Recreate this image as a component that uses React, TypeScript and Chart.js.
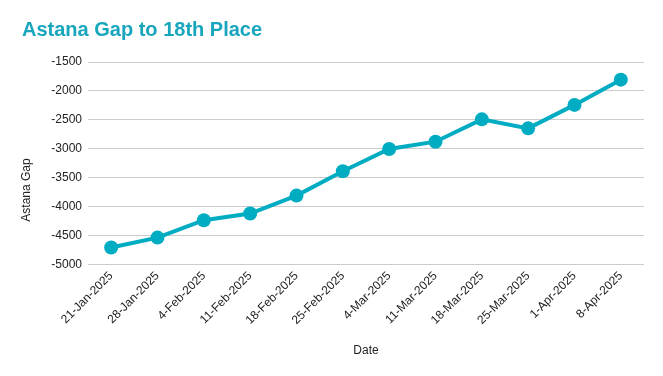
import React, { useEffect, useRef } from "react";
import { Chart, registerables } from "chart.js";

Chart.register(...registerables);

const dates = [
  "21-Jan-2025", "28-Jan-2025", "4-Feb-2025", "11-Feb-2025", "18-Feb-2025", "25-Feb-2025",
  "4-Mar-2025", "11-Mar-2025", "18-Mar-2025", "25-Mar-2025", "1-Apr-2025", "8-Apr-2025",
];
const astanaGap = [-4700, -4530, -4230, -4115, -3805, -3385, -3000, -2875, -2490, -2645, -2240, -1805];
const yMin = -5000;
const yMax = -1500;
const yStep = 500;
const yTitle = "Astana Gap";

const TEAL = "#00acc1";
const FONT = "Arial, 'Liberation Sans', sans-serif";

const yTitlePlugin = {
  id: "yTitlePlugin",
  afterDraw(chart: any) {
    const ctx = chart.ctx;
    ctx.save();
    ctx.translate(27, 190);
    ctx.rotate(-Math.PI / 2);
    ctx.font = `12px ${FONT}`;
    ctx.fillStyle = "#222";
    ctx.textAlign = "center";
    ctx.textBaseline = "middle";
    ctx.fillText(yTitle, 0, 0);
    ctx.restore();
  },
};

export default function App() {
  const ref = useRef<HTMLCanvasElement | null>(null);
  useEffect(() => {
    document.body.style.margin = "0";
    const chart = new Chart(ref.current!, {
      type: "line",
      data: {
        labels: dates,
        datasets: [
          {
            label: "Astana Gap",
            data: astanaGap,
            borderColor: TEAL,
            backgroundColor: TEAL,
            borderWidth: 4,
            pointRadius: 7,
            pointHoverRadius: 7,
            pointBackgroundColor: TEAL,
            pointBorderWidth: 0,
            tension: 0,
          },
        ],
      },
      plugins: [yTitlePlugin],
      options: {
        animation: false,
        responsive: false,
        maintainAspectRatio: false,
        layout: { padding: { left: 22, right: 19, top: 16, bottom: 18 } },
        plugins: {
          legend: { display: false },
          tooltip: { enabled: false },
          title: {
            display: true,
            text: "Astana Gap to 18th Place",
            align: "start",
            color: "#18a6bd",
            font: { family: FONT, size: 20, weight: "bold" },
            padding: { top: 2, bottom: 20 },
          },
        },
        scales: {
          x: {
            offset: true,
            grid: { display: false, drawTicks: false },
            border: { display: false },
            ticks: {
              color: "#222",
              font: { family: FONT, size: 12 },
              maxRotation: 45,
              minRotation: 45,
              autoSkip: false,
              padding: 4,
            },
            title: {
              display: true,
              text: "Date",
              color: "#222",
              font: { family: FONT, size: 12 },
              padding: { top: 12, bottom: 0 },
            },
          },
          y: {
            min: yMin,
            max: yMax,
            afterFit(scale: any) {
              scale.width = 66;
            },
            grid: { color: "#cccccc", drawTicks: false, lineWidth: 1 },
            border: { display: false },
            ticks: {
              stepSize: yStep,
              color: "#222",
              font: { family: FONT, size: 12 },
              padding: 6,
              callback: (v: any) => String(v),
            },
          },
        },
      },
    });
    return () => chart.destroy();
  }, []);
  return <canvas ref={ref} width={663} height={376} style={{ display: "block" }} />;
}
